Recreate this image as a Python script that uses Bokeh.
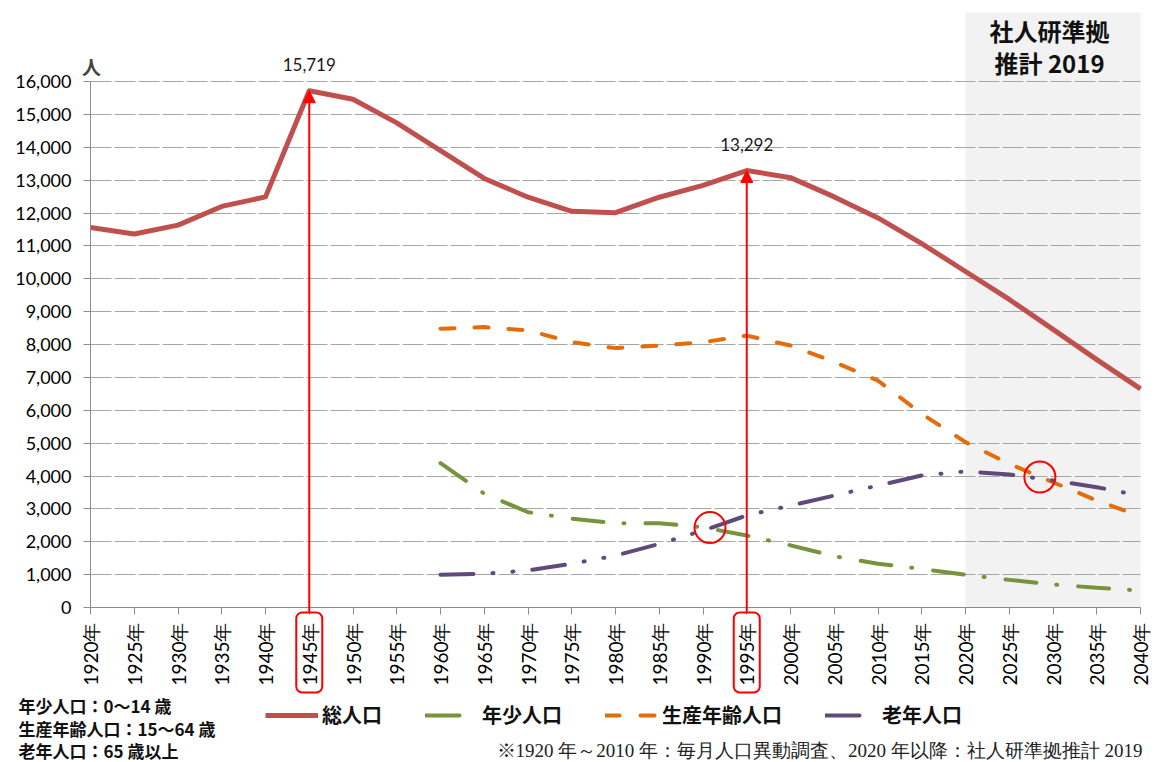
import math
from bokeh.plotting import figure
from bokeh.models import (Range1d, FixedTicker, NumeralTickFormatter, CustomJSTickFormatter,
                          BoxAnnotation, Label, Arrow, NormalHead, Legend, LegendItem,
                          ColumnDataSource, Grid)
from bokeh.embed import file_html
from bokeh.resources import INLINE

# ---------------- data ----------------
years = list(range(1920, 2045, 5))
total = [11560, 11360, 11630, 12200, 12490, 15719, 15460, 14740, 13900, 13050,
         12480, 12050, 12010, 12480, 12840, 13292, 13075, 12490, 11850, 11070,
         10220, 9370, 8460, 7540, 6650]

years_age = list(range(1960, 2045, 5))
productive = [8480, 8530, 8430, 8070, 7890, 7970, 8070, 8270, 7970, 7470,
              6900, 5890, 5030, 4370, 3810, 3255, 2770]
youth = [4390, 3460, 2900, 2700, 2565, 2565, 2440, 2190, 1890, 1560,
         1330, 1175, 995, 840, 700, 600, 515]
elderly = [995, 1025, 1125, 1330, 1580, 1935, 2340, 2800, 3100, 3405,
           3710, 4015, 4140, 4045, 3865, 3660, 3400]

y_ticks = list(range(0, 16001, 1000))
peak_years = [1945, 1995]
peak_values = [15719, 13292]
peak_labels = ["15,719", "13,292"]
cross_x = [1990.8, 2028.5]
cross_y = [2430, 3970]

series_names = ["総人口", "年少人口", "生産年齢人口", "老年人口"]
notes = ["年少人口：0～14 歳", "生産年齢人口：15～64 歳", "老年人口：65 歳以上"]
footnote = "※1920 年～2010 年：毎月人口異動調査、2020 年以降：社人研準拠推計 2019"
proj_start, proj_end = 2020, 2040
proj_title = ["社人研準拠", "推計 2019"]

C_TOTAL = "#C0504D"
C_YOUTH = "#77933C"
C_PROD = "#E46C0A"
C_OLD = "#604A7B"
C_RED = "#FF0000"
C_AX = "#8C8C8C"

# ---------------- layout (pixel geometry of the canvas) ----------------
W, H = 1169, 762
X0_PX, X1_PX = 90, 1140        # pixel of 1920 and 2040
Y0_PX, Y16_PX = 607, 81        # pixel of 0 and 16,000
xs = (X1_PX - X0_PX) / (years[-1] - years[0])
ys = (Y0_PX - Y16_PX) / y_ticks[-1]


def dx(px):
    return years[0] + (px - X0_PX) / xs


def dy(py):
    return (Y0_PX - py) / ys


p = figure(width=W, height=H, x_range=Range1d(dx(0), dx(W)), y_range=Range1d(dy(H), dy(0)),
           output_backend="svg", toolbar_location=None,
           min_border_left=0, min_border_right=0, min_border_top=0, min_border_bottom=0)
p.min_border = 0
p.outline_line_color = None
p.background_fill_color = "white"
p.border_fill_color = "white"

# axes (placed at data locations so the frame covers the whole canvas)
p.xaxis.fixed_location = 0
p.xaxis.bounds = (years[0], years[-1])
p.xaxis.ticker = FixedTicker(ticks=years)
p.xaxis.formatter = CustomJSTickFormatter(code="return tick + '年'")
p.xaxis.major_label_orientation = math.pi / 2
p.xaxis.axis_line_color = C_AX
p.xaxis.major_tick_line_color = C_AX
p.xaxis.major_tick_out = 7
p.xaxis.major_tick_in = 0
p.xaxis.minor_tick_line_color = None
p.xaxis.major_label_standoff = 8
p.xaxis.major_label_text_font = "Lato"
p.xaxis.major_label_text_font_size = "19px"
p.xaxis.major_label_text_color = "#000000"

p.yaxis.fixed_location = years[0]
p.yaxis.bounds = (0, y_ticks[-1])
p.yaxis.ticker = FixedTicker(ticks=y_ticks)
p.yaxis.formatter = NumeralTickFormatter(format="0,0")
p.yaxis.axis_line_color = C_AX
p.yaxis.major_tick_line_color = C_AX
p.yaxis.major_tick_out = 7
p.yaxis.major_tick_in = 0
p.yaxis.minor_tick_line_color = None
p.yaxis.major_label_standoff = 12
p.yaxis.major_label_text_font = "Lato"
p.yaxis.major_label_text_font_size = "18px"
p.yaxis.major_label_text_color = "#000000"

p.xgrid.visible = False
grid_ticks = y_ticks[1:]
if "cross_bounds" in Grid.properties():
    p.ygrid.ticker = FixedTicker(ticks=grid_ticks)
    p.ygrid.cross_bounds = (years[0], years[-1])
    p.ygrid.grid_line_color = "#A6A6A6"
    p.ygrid.grid_line_dash = "21 3"
    p.ygrid.grid_line_width = 1
else:
    p.ygrid.visible = False
    p.segment(x0=[years[0]] * len(grid_ticks), x1=[years[-1]] * len(grid_ticks),
              y0=grid_ticks, y1=grid_ticks, line_color="#A6A6A6", line_dash="21 3",
              line_width=1, level="underlay")

# projection shading (extends above the plot to hold its title)
p.add_layout(BoxAnnotation(left=proj_start, right=proj_end, bottom=0, top=dy(12),
                           fill_color="#F2F2F2", fill_alpha=1, line_color=None, level="image"))

# series
src_t = ColumnDataSource(dict(x=years, y=total))
src_a = ColumnDataSource(dict(x=years_age, p=productive, c=youth, o=elderly))

p.line("x", "p", source=src_a, line_color=C_PROD, line_width=4, line_dash="14 20",
       line_cap="round")
p.line("x", "c", source=src_a, line_color=C_YOUTH, line_width=4, line_dash="31 20 1 21",
       line_cap="round")
p.line("x", "o", source=src_a, line_color=C_OLD, line_width=4, line_dash="33 19 1 19 1 19",
       line_cap="round")
p.line("x", "y", source=src_t, line_color=C_TOTAL, line_width=5, line_join="round")

# crossing circles
p.scatter(cross_x, cross_y, marker="circle", size=31, fill_color=None,
          line_color=C_RED, line_width=2)

# arrows + boxes around tick labels
half_w = 13 / xs
for yr, v, lab in zip(peak_years, peak_values, peak_labels):
    p.add_layout(Arrow(x_start=yr, y_start=dy(612), x_end=yr, y_end=v,
                       end=NormalHead(size=12, fill_color=C_RED, line_color=C_RED),
                       line_color=C_RED, line_width=2))
    p.add_layout(BoxAnnotation(left=yr - half_w, right=yr + half_w, bottom=dy(692), top=dy(612),
                               fill_alpha=0, line_color=C_RED, line_alpha=1, line_width=2,
                               border_radius=6))
    p.add_layout(Label(x=yr, y=v + dy(Y0_PX - 26), text=lab, text_font="Lato",
                       text_font_size="17px", text_align="center", text_baseline="middle",
                       text_color="#1a1a1a"))

# unit label
p.add_layout(Label(x=dx(91), y=dy(66), text="人", text_font="Noto Sans CJK JP",
                   text_font_style="bold", text_font_size="19px", text_align="center",
                   text_baseline="middle"))

# projection title
for t, py in zip(proj_title, [30, 62]):
    p.add_layout(Label(x=dx(1049), y=dy(py), text=t, text_font="Noto Sans CJK JP",
                       text_font_style="bold", text_font_size="24px", text_align="center",
                       text_baseline="middle", text_color="#111111"))

# notes at lower-left
for t, py in zip(notes, [705, 728, 750]):
    p.add_layout(Label(x=dx(18), y=dy(py), text=t, text_font="Noto Sans CJK JP",
                       text_font_style="bold", text_font_size="17px", text_align="left",
                       text_baseline="middle", text_color="#111111"))

# footnote
p.add_layout(Label(x=dx(496), y=dy(750), text=footnote, text_font="Liberation Serif",
                   text_font_size="19px", text_align="left", text_baseline="middle",
                   text_color="#222222"))

# legend (legend-only renderers holding no visible point)
nan_pt = [float("nan")]
lr = [
    p.line(nan_pt, nan_pt, line_color=C_TOTAL, line_width=5),
    p.line(nan_pt, nan_pt, line_color=C_YOUTH, line_width=4, line_dash="34 40", line_cap="round"),
    p.line(nan_pt, nan_pt, line_color=C_PROD, line_width=4, line_dash="14 21", line_cap="round"),
    p.line(nan_pt, nan_pt, line_color=C_OLD, line_width=4, line_dash="34 40", line_cap="round"),
]
legend = Legend(items=[LegendItem(label=n, renderers=[r]) for n, r in zip(series_names, lr)],
                orientation="horizontal", location=(265, H - 729), glyph_width=53,
                glyph_height=24, label_height=24, label_standoff=4, spacing=43,
                padding=0, margin=0, border_line_color=None, background_fill_alpha=0,
                label_text_font="Noto Sans CJK JP", label_text_font_style="bold",
                label_text_font_size="20px", label_text_color="#111111")
p.add_layout(legend)

open("out.html", "w").write(file_html(p, INLINE))
